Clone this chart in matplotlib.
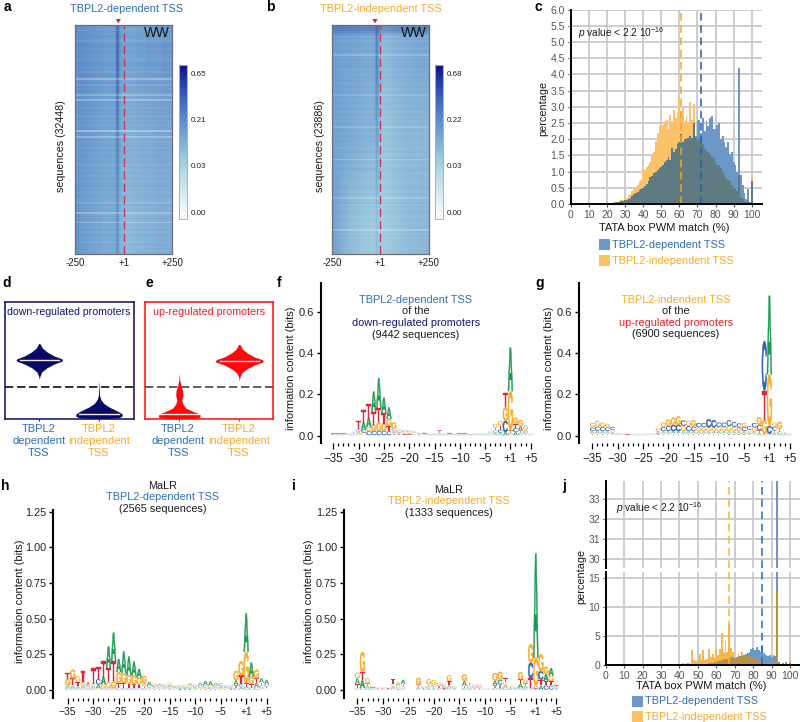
import numpy as np
import matplotlib
matplotlib.use("Agg")
import matplotlib.pyplot as plt
from matplotlib.colors import LinearSegmentedColormap, FuncNorm
from matplotlib.font_manager import FontProperties
from matplotlib.patches import PathPatch, Rectangle
from matplotlib.textpath import TextPath
from matplotlib.transforms import Affine2D

plt.rcParams['font.family'] = ['Liberation Sans', 'DejaVu Sans']
plt.rcParams['mathtext.fontset'] = 'custom'
plt.rcParams['mathtext.rm'] = 'Liberation Sans'
plt.rcParams['mathtext.it'] = 'Liberation Sans:italic'

W, H = 800, 722
BLUE_TXT = '#2f6db5'
ORANGE_TXT = '#f9a92a'
NAVY = '#14147a'
RED = '#f01c24'
GRID = '#c9c9c9'
TICK_TXT = '#555555'

# heatmap a: column profiles (-250..+250, 40 columns) top / middle / bottom of the sorted rows
a_cols_top = [.19, .19, .20, .20, .19, .19, .18, .18, .18, .17, .17, .17, .16, .16, .16, .16, .16, .40, .17, .15,
              .14, .14, .14, .14, .14, .15, .15, .15, .15, .16, .16, .16, .16, .16, .16, .16, .17, .17, .17, .16]
a_cols_mid = [.17, .18, .18, .18, .17, .17, .17, .16, .16, .16, .15, .15, .15, .15, .15, .14, .15, .28, .15, .13,
              .115, .115, .12, .12, .12, .125, .125, .13, .13, .13, .13, .13, .135, .14, .14, .14, .14, .14, .14, .135]
a_cols_bot = [.18, .18, .17, .16, .16, .15, .15, .15, .14, .14, .14, .13, .13, .13, .13, .13, .13, .20, .12, .11,
              .09, .09, .09, .09, .10, .10, .10, .10, .11, .11, .11, .11, .11, .12, .12, .12, .12, .12, .12, .12]
# per-row tint, -1 = pale streak, positive = darker row
a_rows = [.1, 0, -.1, .1, 0, .15, .1, 0, -.15, .1, .2, .1, 0, .15, .1, 0, .1, 0, -.1, .1,
          .2, .1, 0, .15, -.1, .1, .15, 0, -.7, .05, .1, -.2, .1, 0, .1, 0, -.6, .05, 0, -.7,
          .1, 0, .1, -.1, .05, 0, .1, -.15, 0, .1, -.05, .05, -.1, 0, .05, -.85, 0, .05, -.7, 0,
          .05, -.1, 0, .05, -.1, .05, 0, -.05, .05, 0, -.1, .05, 0, -.15, .05, 0, -.05, .05, -.1, 0,
          .05, -.1, 0, .05, .1, 0, .05, -.1, 0, .1, .05, -.1, 0, -.3, .1, 0, .05, .1, -.65, 0,
          .05, .1, 0, -.7, .1, .05, 0, .1, -.1, .05, .1, 0, .05, -.1, .05, .1, 0, .05, 0, .05]

b_cols_top = [.17, .17, .17, .17, .16, .16, .16, .16, .15, .15, .15, .15, .14, .14, .14, .14, .14, .14, .30, .13,
              .09, .09, .09, .10, .10, .11, .11, .12, .12, .12, .13, .13, .13, .13, .14, .14, .14, .14, .14, .14]
b_cols_mid = [.16, .16, .16, .15, .15, .15, .14, .14, .14, .13, .13, .12, .12, .12, .11, .11, .11, .11, .18, .10,
              .06, .06, .065, .07, .075, .08, .085, .09, .09, .095, .10, .10, .10, .10, .10, .10, .10, .11, .10, .10]
b_cols_bot = [.16, .15, .14, .13, .12, .11, .10, .09, .085, .08, .075, .07, .065, .06, .06, .055, .05, .05, .09, .045,
              .04, .04, .045, .05, .055, .06, .065, .07, .075, .08, .08, .085, .09, .09, .09, .095, .095, .10, .10, .10]
b_rows = [.8, .9, .85, .7, .3, .1, 0, .1, -.1, .05, .1, 0, -.05, .1, 0, -.5, .05, 0, .1, -.1,
          .05, .1, 0, -.1, .05, 0, -.05, .1, 0, .05, -.1, 0, .05, -.1, 0, .05, -.35, 0, .05, -.1,
          0, .05, -.1, .05, 0, -.15, .05, 0, -.05, .05, -.1, 0, .05, -.45, 0, .05, -.1, 0, .05, -.1,
          .05, 0, -.05, .05, -.1, 0, .05, -.1, 0, .05, -.55, 0, .05, -.1, 0, .1, .05, -.1, 0, .05,
          0, .05, -.1, 0, .05, .1, 0, -.1, .05, 0, -.45, .05, 0, .1, -.1, .05, 0, .05, .1, 0,
          -.1, .05, 0, .05, -.1, .05, 0, -.6, .05, 0, .05, -.1, .05, 0, .05, 0, .05, -.05, .05, 0]

a_cbar_ticks = [0.00, 0.03, 0.21, 0.65]
b_cbar_ticks = [0.00, 0.03, 0.22, 0.68]

# TATA PWM histograms, bins 20..100
c_bins = np.arange(20, 101)
c_dep = [.01, .01, .02, .03, .03, .05, .05, .07, .08, .10, .12, .12, .15, .20, .25, .30, .33, .38, .42, .45,
         .50, .55, .62, .70, .82, .85, .95, 1.0, 1.05, 1.1, 1.15, 1.2, 1.3, 1.35, 1.45, 1.35, 1.72, 1.6, 1.7, 1.85,
         1.9, 2.15, 1.9, 2.0, 2.0, 2.05, 2.1, 2.05, 2.5, 2.1, 2.55, 2.6, 2.2, 2.65, 2.25, 2.55, 2.4, 2.65, 2.7, 2.3,
         2.3, 2.45, 2.5, 2.0, 2.1, 1.9, 1.75, 1.9, 1.55, 1.6, 1.3, 1.2, 1.0, 4.2, .9, .6, .35, .15, .45, .05, .7]
c_ind = [.02, .02, .04, .03, .07, .05, .06, .10, .13, .12, .20, .18, .28, .30, .40, .45, .52, .60, .72, .75,
         1.05, 1.05, 1.15, 1.2, 1.3, 1.5, 1.6, 1.95, 2.2, 2.4, 2.4, 2.45, 2.55, 2.6, 2.3, 2.75, 2.55, 2.9, 2.65, 2.85,
         3.3, 2.85, 3.0, 2.55, 2.75, 2.5, 3.15, 2.6, 3.1, 2.05, 1.95, 2.0, 1.9, 1.85, 1.7, 1.65, 1.6, 1.55, 1.45, 1.4,
         1.3, 1.2, 1.2, 1.1, 1.0, .9, .8, .75, .7, .6, .5, .45, .4, .9, .2, .15, .10, .05, .10, .03, .8]
c_medians = [72, 61]

# MaLR histograms, bins 37..100
j_bins = np.arange(37, 101)
j_dep = [0, 0, .02, .02, .02, .03, .03, .05, .05, .05, .1, .1, .1, .15, .15, .2, .2, .2, .25, .3,
         .35, .4, .45, .5, .7, .7, .8, 1.0, 1.1, 1.0, 1.2, 1.3, 1.4, 1.2, 1.4, 1.5, 1.5, 1.6, 1.8, 1.9,
         2.0, 2.3, 2.8, 3.0, 2.6, 3.1, 2.6, 2.3, 3.3, 2.0, 1.7, 1.5, 1.8, 1.3, 1.8, 1.5, 34.5, .6, .1, .4,
         .2, .5, .1, .3]
j_ind = [.1, .1, .2, .2, .1, .3, .2, .3, .3, .2, 2.6, .8, .7, .9, 1.9, .9, 2.6, .9, 1.1, 2.8,
         1.4, 1.9, 1.2, 2.7, 1.7, 2.8, 5.6, 2.1, 4.1, 2.2, 6.9, 3.0, 2.2, 1.0, 1.3, 1.9, 1.4, 2.3, 1.6, 1.7,
         1.5, 1.6, 1.4, 1.4, 1.0, .9, .8, .6, .5, .4, .3, .3, .3, .2, .3, .3, 12.8, .2, .1, .1,
         .05, .05, .05, .9]
j_medians = [85, 67]

# violins: (y, half width) outlines
d_dep_y = [.34, .366, .40, .434, .469, .491, .503, .515, .537, .572, .606, .64, .645]
d_dep_w = [0, .012, .04, .12, .25, .37, .39, .37, .25, .13, .05, .015, 0]
d_ind_y = [.33, .24, .20, .165, .13, .10, .08, .06, .04, .02, .008, .002]
d_ind_w = [0, .006, .01, .03, .08, .17, .25, .33, .39, .385, .33, .15]
e_dep_y = [.39, .33, .28, .24, .20, .16, .126, .09, .06, .05, .03, .01, .002]
e_dep_w = [0, .008, .03, .055, .06, .04, .06, .11, .24, .30, .35, .34, .2]
e_ind_y = [.325, .36, .391, .425, .46, .483, .495, .507, .529, .564, .598, .632, .64]
e_ind_w = [0, .012, .04, .12, .25, .38, .40, .38, .25, .13, .05, .015, 0]
d_medians = [.503, .04]
d_cut = .272
e_medians = [.04, .495]
e_cut = .275

# sequence logos, positions -35..-1, +1..+5
logo_ticks = [0, 5, 10, 15, 20, 25, 30, 35, 39]
logo_labels = ['\u221235', '\u221230', '\u221225', '\u221220', '\u221215', '\u221210', '\u22125', '+1', '+5']

f_a = [.003, .003, .003, .003, .003, .012, .03, .045, .1, .145, .075, .055, .012, .008, .006, .006, .004, .003, .003, .003,
       .003, .004, .003, .003, .003, .003, .003, .003, .003, .003, .003, .004, .012, .012, .015, .21, .015, .02, .012, .003]
f_c = [.003, .003, .003, .003, .004, .012, .018, .02, .022, .022, .022, .02, .012, .01, .008, .008, .006, .004, .004, .003,
       .003, .004, .003, .003, .003, .003, .003, .003, .003, .003, .003, .006, .012, .015, .055, .012, .02, .012, .01, .002]
f_g = [.004, .004, .004, .003, .004, .006, .012, .02, .03, .04, .035, .035, .03, .01, .006, .006, .005, .004, .003, .003,
       .003, .004, .003, .005, .003, .004, .004, .003, .003, .003, .003, .006, .02, .022, .065, .19, .03, .03, .02, .002]
f_t = [.003, .003, .003, .003, .006, .04, .06, .065, .06, .07, .05, .025, .008, .005, .004, .004, .004, .003, .003, .003,
       .003, .012, .003, .003, .003, .003, .003, .003, .003, .003, .003, .004, .012, .02, .07, .012, .02, .012, .006, .002]

g_a = [.012, .014, .012, .012, .01, .003, .003, .003, .002, .002, .002, .003, .003, .012, .012, .012, .012, .012, .012, .012,
       .012, .012, .012, .012, .012, .012, .012, .012, .012, .012, .012, .008, .01, .012, .006, .38, .01, .006, .003, .002]
g_c = [.018, .02, .02, .018, .015, .003, .002, .002, .002, .002, .002, .002, .002, .012, .02, .025, .03, .032, .028, .025,
       .022, .022, .022, .04, .035, .022, .022, .028, .025, .022, .02, .018, .022, .028, .24, .035, .02, .012, .005, .002]
g_g = [.022, .028, .022, .018, .01, .004, .002, .003, .002, .003, .002, .002, .002, .012, .022, .03, .035, .04, .025, .025,
       .03, .018, .018, .018, .018, .02, .02, .025, .02, .016, .02, .012, .02, .035, .07, .25, .02, .035, .006, .004]
g_t = [.008, .008, .008, .008, .006, .002, .002, .002, .002, .002, .002, .002, .002, .006, .008, .008, .008, .008, .008, .008,
       .008, .008, .008, .008, .008, .008, .008, .008, .008, .008, .008, .006, .008, .012, .14, .01, .012, .012, .005, .002]

h_a = [.02, .02, .015, .015, .01, .015, .025, .05, .15, .2, .09, .15, .13, .1, .06, .02, .025, .01, .015, .01,
       .015, .01, .01, .01, .015, .01, .02, .03, .03, .02, .015, .01, .01, .035, .02, .27, .1, .03, .03, .03]
h_c = [.01, .01, .01, .01, .015, .012, .04, .01, .012, .01, .015, .012, .012, .012, .01, .012, .015, .015, .012, .012,
       .012, .01, .01, .01, .012, .012, .015, .015, .012, .015, .02, .01, .01, .012, .02, .02, .015, .02, .02, .02]
h_g = [.045, .06, .04, .03, .01, .015, .01, .03, .04, .05, .08, .07, .06, .06, .05, .05, .01, .015, .01, .012,
       .015, .006, .012, .012, .012, .012, .01, .012, .012, .012, .006, .006, .01, .065, .1, .22, .05, .06, .01, .01]
h_t = [.045, .05, .03, .075, .02, .11, .085, .11, .1, .14, .03, .035, .03, .025, .025, .015, .005, .008, .006, .008,
       .008, .004, .003, .004, .006, .006, .005, .005, .005, .004, .004, .004, .004, .02, .06, .025, .025, .03, .02, .01]

i_a = [.04, .05, .015, .004, .003, .003, .003, .015, .02, .03, 0, 0, .01, .005, .012, .008, .005, .012, .02, .006,
       0, .035, .008, .006, .005, .002, .002, .03, .015, .02, .006, .005, .03, .015, .01, .73, .03, .05, .05, .01]
i_c = [.01, .015, .01, .006, .005, .005, .004, .008, .01, .008, 0, 0, .008, .006, .012, .015, .006, .012, .012, .006,
       0, .012, .01, .012, .012, .003, .003, .012, .035, .015, .006, .005, .012, .012, .11, .015, .06, .03, .03, .01]
i_g = [.04, .14, .035, .012, .008, .006, .006, .015, .012, .012, 0, 0, .045, .012, .04, .035, .025, .015, .04, .01,
       0, .045, .015, .015, .016, .003, .003, .055, .055, .02, .01, .006, .05, .025, .13, .2, .12, .05, .04, .015]
i_t = [.03, .06, .02, .006, .005, .005, .004, .04, .008, .02, 0, 0, .02, .005, .012, .012, .014, .01, .03, .005,
       0, .015, .015, .008, .007, .002, .002, .02, .02, .025, .006, .004, .03, .018, .07, .01, .04, .03, .03, .01]

LOGO_COLORS = {'A': '#1f9a52', 'C': '#2f66ad', 'G': '#f9ad2c', 'T': '#e0263c'}
LOGO_FONT = FontProperties(family='Liberation Sans', weight='bold')


def px_axes(left, top, right, bottom):
    return fig.add_axes([left / W, 1 - bottom / H, (right - left) / W, (bottom - top) / H])


def txt(x, y, s, size=7.8, color='#1a1a1a', ha='center', va='center', **kw):
    return fig.text(x / W, 1 - y / H, s, fontsize=size, color=color, ha=ha, va=va, **kw)


def draw_letter(ax, letter, x, y, w, h, px_high):
    path = TextPath((0, 0), letter, size=1, prop=LOGO_FONT)
    box = path.get_extents()
    tr = Affine2D().translate(-box.x0, -box.y0).scale(w / box.width, h / box.height).translate(x - w / 2, y)
    col = LOGO_COLORS[letter]
    # letters under ~3px only read as a pale smear in the reference
    if px_high < 3:
        ax.add_patch(PathPatch(path, transform=tr + ax.transData, fc=col, lw=0, alpha=.6))
    else:
        ax.add_patch(PathPatch(path, transform=tr + ax.transData, fc=col, ec=col, lw=.3 if px_high > 6 else 0))


def logo_panel(a, c, g, t, spine_x, x0, dx, y0, unit, top, yticks, fmt, xsize, ysize):
    # axes box in pixels, limits worked out so positions land on the reference ticks
    bottom = y0 + 7.5
    right = x0 + 39.6 * dx
    ax = px_axes(spine_x, top, right, bottom)
    ax.set_xlim((spine_x - x0) / dx, 39.6)
    ax.set_ylim(-7.5 / unit, (y0 - top) / unit)
    for i in range(40):
        stack = sorted(zip((a[i], c[i], g[i], t[i]), 'ACGT'))
        base = 0.002
        for height, letter in stack:
            if height > 0:
                draw_letter(ax, letter, i, base, 0.98, height, height * unit)
                base += height
    for s in ('top', 'right', 'bottom'):
        ax.spines[s].set_visible(False)
    ax.spines['left'].set_linewidth(1.5)
    ax.set_yticks(yticks)
    ax.set_yticklabels([fmt % v for v in yticks], fontsize=ysize, color='#222222')
    ax.set_xticks(logo_ticks)
    ax.set_xticklabels(logo_labels, fontsize=xsize, color='#222222')
    ax.set_xticks(np.arange(40), minor=True)
    ax.tick_params(axis='x', which='major', length=4, width=.9, pad=3)
    ax.tick_params(axis='x', which='minor', length=2.5, width=.9)
    ax.tick_params(axis='y', length=3, width=1, pad=2)
    ax.patch.set_alpha(0)
    return ax


def heatmap(left, right, tops, mids, bots, rows, ticks):
    ax = px_axes(left, 25, right, 254)
    # coarse three-row grid; imshow's bilinear filter blends it downwards
    im = ax.imshow(np.array([tops, mids, bots]), aspect='auto', cmap=heat_cmap, norm=make_norm(ticks),
                   extent=(-250, 250, 0, 1), interpolation='bilinear')
    ax.imshow(np.array(rows).reshape(-1, 1), aspect='auto', cmap=tint_cmap, vmin=-1, vmax=1,
              extent=(-250, 250, 0, 1), interpolation='nearest')
    ax.set_yticks([])
    ax.set_xticks([-250, 1, 250])
    ax.set_xticklabels(['-250', '+1', '+250'], fontsize=7, color='#222222')
    ax.tick_params(axis='x', length=0, pad=3)
    for s in ax.spines.values():
        s.set_color('#6b6f78')
        s.set_linewidth(.9)
    ax.text(240, 0.965, 'WW', ha='right', va='center', fontsize=9.8, color='#111111')
    ax.plot([1, 1], [0, 1], color='#c23a52', lw=1, dashes=(6, 3))
    ax.set_xlim(-250, 250)
    ax.set_ylim(0, 1)
    cax = px_axes(right + 6.5, 65, right + 14.5, 219)
    cb = fig.colorbar(im, cax=cax, ticks=ticks, spacing='proportional')
    cb.ax.minorticks_off()
    cb.ax.set_yticklabels(['%.2f' % v for v in ticks], fontsize=5.8, color='#222222')
    cb.ax.tick_params(length=0, pad=3)
    cb.outline.set_edgecolor('#a8b0b8')
    cb.outline.set_linewidth(.7)
    return ax


def make_norm(ticks):
    # colour stops fall on the evenly spaced colourbar ticks
    vals = [-0.0006, ticks[0], ticks[1], ticks[2], ticks[3], ticks[3] * 1.14]
    pos = [0.0, .045, .345, .645, .945, 1.0]
    return FuncNorm((lambda v: np.interp(v, vals, pos), lambda p: np.interp(p, pos, vals)),
                    vmin=vals[0], vmax=vals[-1])


def hist_style(ax, xmax):
    ax.set_xlim(0, xmax)
    ax.set_axisbelow(True)
    ax.grid(True, color=GRID, lw=1.3)
    for s in ('top', 'right'):
        ax.spines[s].set_visible(False)
    ax.spines['left'].set_linewidth(1.4)
    ax.spines['bottom'].set_linewidth(1.4)
    ax.set_xticks(np.arange(0, 101, 10))
    ax.tick_params(labelsize=7.5, colors=TICK_TXT, length=2.5, pad=1.5)
    ax.patch.set_alpha(0)


def violin(ax, center, ys, ws, color):
    ax.fill_betweenx(ys, center - np.array(ws), center + np.array(ws), color=color, lw=0)


def violin_panel(left, right, c0, spacing, color, dep_y, dep_w, ind_y, ind_w, medians, cut, cutcolor):
    ax = px_axes(left, 302, right, 418.7)
    ax.set_xlim((left - c0) / spacing, (right - c0) / spacing)
    ax.set_ylim(0, 1)
    violin(ax, 0, dep_y, dep_w, color)
    violin(ax, 1, ind_y, ind_w, color)
    for center, m in zip((0, 1), medians):
        ax.plot([center - .33, center + .33], [m, m], color='#f2e4e4', lw=1)
    ax.axhline(cut, color=cutcolor, lw=1.2, dashes=(5, 2.2))
    ax.set_yticks([])
    ax.set_xticks([0, 1])
    ax.set_xticklabels([])
    ax.tick_params(axis='x', length=1.5, width=.7, color=color)
    for s in ax.spines.values():
        s.set_color(color)
        s.set_linewidth(1.1)
    return ax


fig = plt.figure(figsize=(W / 100, H / 100), dpi=100)

heat_cmap = LinearSegmentedColormap.from_list('heat', [(0, '#ffffff'), (.045, '#f4f9fb'), (.345, '#a8d3e2'),
                                                       (.645, '#5c8cca'), (.8, '#3a5fb8'), (1, '#0b1484')])
tint_cmap = LinearSegmentedColormap.from_list('tint', [(0, (1, 1, 1, .38)), (.5, (1, 1, 1, 0)), (.5001, (.1, .2, .6, 0)),
                                                       (1, (.1, .2, .6, .35))])

# a, b heatmaps
heatmap(75, 172, a_cols_top, a_cols_mid, a_cols_bot, a_rows, a_cbar_ticks)
heatmap(332, 428.5, b_cols_top, b_cols_mid, b_cols_bot, b_rows, b_cbar_ticks)
txt(126, 9, 'TBPL2-dependent TSS', color=BLUE_TXT, size=7.85)
txt(381, 9, 'TBPL2-independent TSS', color=ORANGE_TXT, size=7.85)
txt(61, 146, 'sequences (32448)', rotation=90, size=7.7)
txt(320, 146, 'sequences (23886)', rotation=90, size=7.7)
for x in (118.3, 375):
    fig.add_artist(plt.Polygon([[(x - 2.6) / W, 1 - 19 / H], [(x + 2.6) / W, 1 - 19 / H], [x / W, 1 - 23.5 / H]],
                               color='#d8283c', transform=fig.transFigure, lw=0))

# c histogram
ax_c = px_axes(570.7, 9.5, 761.7, 204)
hist_style(ax_c, 105.5)
ax_c.bar(c_bins, c_ind, width=1, color='#fcc268', lw=0)
ax_c.bar(c_bins, c_dep, width=1, color='#6b98c9', lw=0)
ax_c.bar(c_bins, np.minimum(c_dep, c_ind), width=1, color='#5f7a80', lw=0)
ax_c.axvline(c_medians[0], color='#1f5fa8', lw=1.1, dashes=(5, 3))
ax_c.axvline(c_medians[1], color='#f5a623', lw=1.1, dashes=(5, 3))
ax_c.set_ylim(0, 6)
ax_c.set_yticks(np.arange(0, 6.01, .5))
ax_c.set_yticklabels(['%.1f' % v for v in np.arange(0, 6.01, .5)])
txt(578, 33, r'$\mathit{p}$ value < 2.2 10$^{-16}$', size=7.3, ha='left')
txt(664, 228, 'TATA box PWM match (%)', size=8)
txt(543, 108, 'percentage', size=7.8, rotation=90)

# d, e violins
violin_panel(4.5, 133.5, 39.3, 59.7, '#0a0a66', d_dep_y, d_dep_w, d_ind_y, d_ind_w, d_medians, d_cut, '#111111')
violin_panel(144.5, 273, 179.3, 60, '#fb0a0a', e_dep_y, e_dep_w, e_ind_y, e_ind_w, e_medians, e_cut, '#444444')
txt(69, 312, 'down-regulated promoters', color=NAVY, size=7.6)
txt(209, 312, 'up-regulated promoters', color=RED, size=7.7)
for x, word, col in ((39, 'dependent', BLUE_TXT), (99, 'independent', ORANGE_TXT),
                     (178, 'dependent', BLUE_TXT), (239, 'independent', ORANGE_TXT)):
    for y, s in ((429, 'TBPL2'), (441, word), (453, 'TSS')):
        txt(x, y, s, color=col, size=8)

# f, g, h, i logos
logo_panel(f_a, f_c, f_g, f_t, 320.7, 333.3, 5.06, 435.7, 206.7, 283, [0, .2, .4, .6], '%.1f', 8.4, 8)
logo_panel(g_a, g_c, g_g, g_t, 579.3, 592.3, 5.06, 435.7, 206.7, 283, [0, .2, .4, .6], '%.1f', 8.4, 8)
logo_panel(h_a, h_c, h_g, h_t, 53.3, 67.7, 5.1, 690, 142.6, 510, [0, .25, .5, .75, 1, 1.25], '%.2f', 7.4, 7.8)
logo_panel(i_a, i_c, i_g, i_t, 344, 357.3, 5.1, 690, 142.6, 510, [0, .25, .5, .75, 1, 1.25], '%.2f', 7.4, 7.8)

for y, s, col in ((300, 'TBPL2-dependent TSS', BLUE_TXT), (311.5, 'of the', '#1a1a1a'),
                  (322.5, 'down-regulated promoters', NAVY), (335, '(9442 sequences)', '#1a1a1a')):
    txt(415.7, y, s, color=col, size=7.8)
for y, s, col in ((300, 'TBPL2-indendent TSS', ORANGE_TXT), (311.5, 'of the', '#1a1a1a'),
                  (322.5, 'up-regulated promoters', RED), (334, '(6900 sequences)', '#1a1a1a')):
    txt(676, y, s, color=col, size=7.8)
for y, s, col in ((486, 'MaLR', '#1a1a1a'), (497.5, 'TBPL2-dependent TSS', BLUE_TXT), (508.5, '(2565 sequences)', '#1a1a1a')):
    txt(163, y, s, color=col, size=7.8)
for y, s, col in ((490, 'MaLR', '#1a1a1a'), (501, 'TBPL2-independent TSS', ORANGE_TXT), (512.5, '(1333 sequences)', '#1a1a1a')):
    txt(449, y, s, color=col, size=7.8)
for x, y in ((290.7, 368), (549, 368), (20, 601.7), (309, 601.7)):
    txt(x, y, 'information content (bits)', rotation=90, size=8)

# j broken histogram
ax_j_up = px_axes(605.7, 481, 800, 568)
ax_j_lo = px_axes(605.7, 572, 800, 665)
for ax in (ax_j_up, ax_j_lo):
    hist_style(ax, 105.4)
    ax.bar(j_bins, j_dep, width=1, color='#6b98c9', lw=0)
    ax.bar(j_bins, j_ind, width=1, color='#fbb54a', lw=0)
    ax.bar(j_bins, np.minimum(j_dep, j_ind), width=1, color='#b9913f', lw=0)
    ax.axvline(j_medians[0], color='#1f6bc0', lw=1.1, dashes=(5, 3))
    ax.axvline(j_medians[1], color='#f9b13c', lw=1.1, dashes=(5, 3))
ax_j_up.set_ylim(29.55, 33.9)
ax_j_up.set_yticks([30, 31, 32, 33])
ax_j_up.spines['bottom'].set_visible(False)
ax_j_up.tick_params(axis='x', length=0, labelbottom=False)
ax_j_lo.set_ylim(0, 16.03)
ax_j_lo.set_yticks([0, 5, 10, 15])
txt(615.7, 508, r'$\mathit{p}$ value < 2.2 10$^{-16}$', size=7.3, ha='left')
txt(701, 686, 'TATA box PWM match (%)', size=8)
txt(581.7, 576, 'percentage', size=7.8, rotation=90)

# legends of c and j
for x, ys in ((599, (239, 255)), (632, (696, 711))):
    for y, col, s, tc in zip(ys, ('#6b98c9', '#fcc268'), ('TBPL2-dependent TSS', 'TBPL2-independent TSS'),
                             (BLUE_TXT, ORANGE_TXT)):
        fig.add_artist(Rectangle((x / W, 1 - (y + 10.5) / H), 10.5 / W, 10.5 / H, color=col,
                                 transform=fig.transFigure, lw=0))
        txt(x + 13, y + 5.5, s, color=tc, size=7.85, ha='left')

# panel letters
for x, y, s in ((7, 7, 'a'), (270, 7, 'b'), (538, 7, 'c'), (7, 283, 'd'), (149, 283, 'e'),
                (279, 283, 'f'), (540, 283, 'g'), (5, 486, 'h'), (294, 486, 'i'), (564, 486, 'j')):
    txt(x, y, s, size=10, color='#000000', fontweight='bold')

fig.savefig('out.png', dpi=100)
